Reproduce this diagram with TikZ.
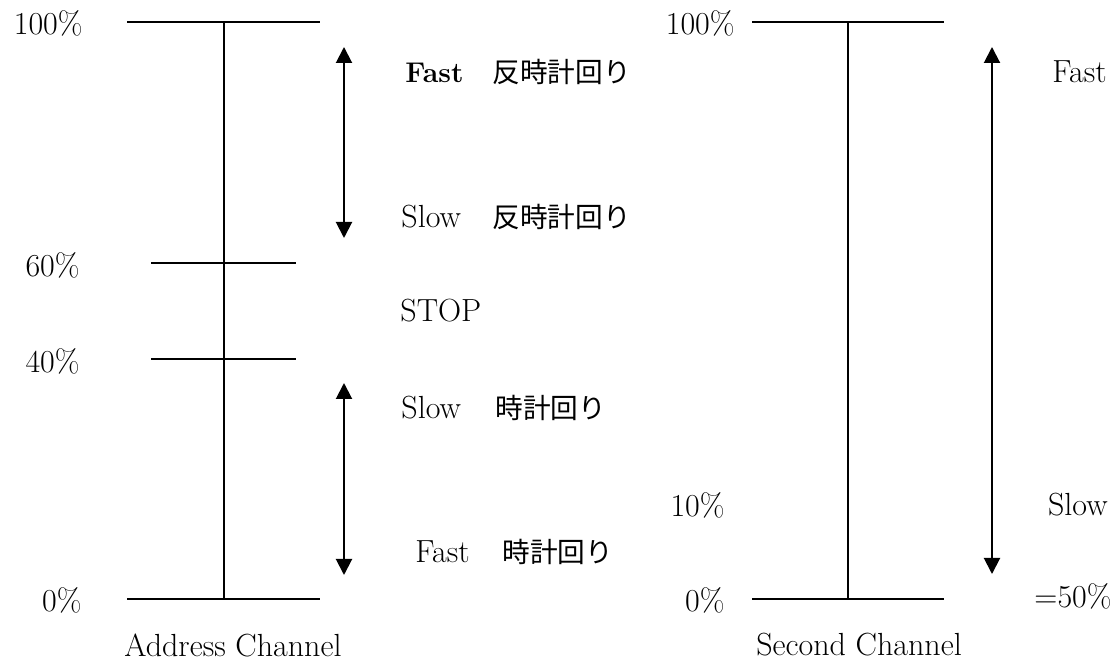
\documentclass[tikz,border=0pt]{standalone}
\usepackage{fontspec}
\newfontfamily\cjk{Noto Sans CJK JP}[Scale=0.865]
\usetikzlibrary{arrows.meta}
\begin{document}
\begin{tikzpicture}[x=0.5pt,y=-0.5pt,
  axis/.style={line width=1pt},
  dbl/.style={line width=1pt,{Triangle[width=8pt,length=8pt]}-{Triangle[width=8pt,length=8pt]}},
  lbl/.style={inner sep=0pt,font=\fontsize{16}{19}\selectfont},
]
\useasboundingbox (0,0) rectangle (1120,662);
% ---- Address channel ----
\coordinate (aT) at (224,22);
\coordinate (aB) at (224,599);
\coordinate (a100L) at (127,22);  \coordinate (a100R) at (320,22);
\coordinate (a60L) at (151,263);  \coordinate (a60R) at (296,263);
\coordinate (a40L) at (151,359);  \coordinate (a40R) at (296,359);
\coordinate (a0L) at (127,599);   \coordinate (a0R) at (320,599);
\draw[axis] (aT) -- (aB);
\draw[axis] (a100L) -- (a100R);
\draw[axis] (a60L) -- (a60R);
\draw[axis] (a40L) -- (a40R);
\draw[axis] (a0L) -- (a0R);
\coordinate (u1) at (344,47);  \coordinate (u2) at (344,238);
\coordinate (d1) at (344,383); \coordinate (d2) at (344,575);
\draw[dbl] (u1) -- (u2);
\draw[dbl] (d1) -- (d2);
\node[lbl,anchor=east] (p100) at (83,23) {100\%};
\node[lbl,anchor=east] (p60) at (80,265) {60\%};
\node[lbl,anchor=east] (p40) at (80,361) {40\%};
\node[lbl,anchor=east] (p0) at (82,600) {0\%};
\node[lbl,anchor=west] (t1) at (405,72) {\makebox[43.5pt][l]{\fontsize{14.25}{17}\selectfont\bfseries Fast}{\cjk 反時計回り}};
\node[lbl,anchor=west] (t2) at (401,217) {\makebox[45.5pt][l]{Slow}{\cjk 反時計回り}};
\node[lbl,anchor=west] (t3) at (400,311) {STOP};
\node[lbl,anchor=west] (t4) at (401,408) {\makebox[47pt][l]{Slow}{\cjk 時計回り}};
\node[lbl,anchor=west] (t5) at (415,552) {\makebox[43.5pt][l]{Fast}{\cjk 時計回り}};
\node[lbl] (capA) at (233,645) {Address Channel};
% ---- Second channel ----
\coordinate (sT) at (848,22);
\coordinate (sB) at (848,599);
\coordinate (s100L) at (752,22);  \coordinate (s100R) at (944,22);
\coordinate (s0L) at (752,599);   \coordinate (s0R) at (944,599);
\draw[axis] (sT) -- (sB);
\draw[axis] (s100L) -- (s100R);
\draw[axis] (s0L) -- (s0R);
\coordinate (r1) at (992,47); \coordinate (r2) at (992,574);
\draw[dbl] (r1) -- (r2);
\node[lbl,anchor=east] (q100) at (735,23) {100\%};
\node[lbl,anchor=east] (q10) at (725,505) {10\%};
\node[lbl,anchor=east] (q0) at (725,600) {0\%};
\node[lbl,anchor=east] (f) at (1107,72) {Fast};
\node[lbl,anchor=east] (s) at (1108,505) {Slow};
\node[lbl,anchor=east] (e) at (1112,596) {=50\%};
\node[lbl] (capS) at (859,645) {Second Channel};
\end{tikzpicture}
\end{document}
